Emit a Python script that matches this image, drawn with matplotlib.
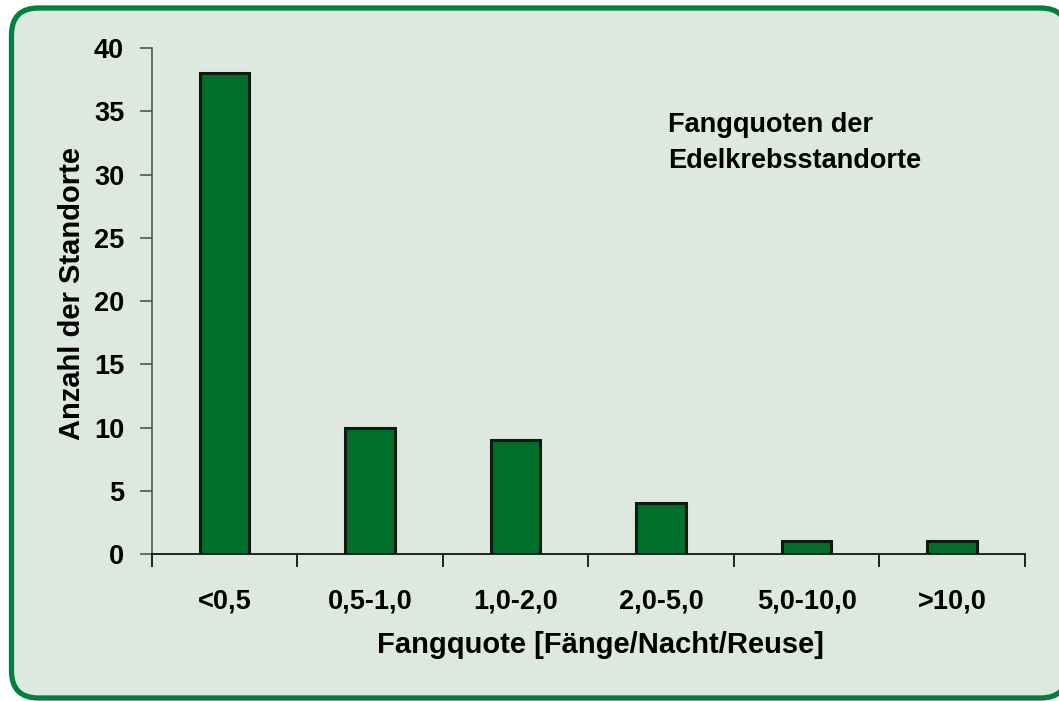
import matplotlib.pyplot as plt
from matplotlib.patches import FancyBboxPatch
from matplotlib.transforms import IdentityTransform

plt.rcParams['font.family'] = ['Liberation Sans', 'DejaVu Sans']
plt.rcParams['font.weight'] = 'bold'

# Daten
kategorien = ['<0,5', '0,5-1,0', '1,0-2,0', '2,0-5,0', '5,0-10,0', '>10,0']
anzahl = [38, 10, 9, 4, 1, 1]
y_ticks = [0, 5, 10, 15, 20, 25, 30, 35, 40]

bg = '#dde9df'
rand = '#00803c'
balken = '#006f2c'

fig = plt.figure(figsize=(10.59, 7.01), dpi=100, facecolor='white')

# abgerundeter Rahmen (Pixelkoordinaten)
box = FancyBboxPatch((11.5, 3), 1056, 690,
                     boxstyle='round,pad=0,rounding_size=27',
                     transform=IdentityTransform(),
                     facecolor=bg, edgecolor=rand, linewidth=3.8, zorder=-10)
fig.patches.append(box)

ax = fig.add_axes([0.1435, 0.2097, 0.8243, 0.7218])
ax.set_facecolor('none')

x = range(len(kategorien))
ax.bar(x, anzahl, width=0.34, color=balken, edgecolor='#0c1a10', linewidth=2.2, zorder=3)

ax.set_xlim(-0.5, 5.5)
ax.set_ylim(0, 40)
ax.set_yticks(y_ticks)
ax.set_yticklabels([str(v) for v in y_ticks], fontsize=19.5, fontweight='bold')

# Kategorien in der Mitte, Striche an den Grenzen
ax.set_xticks(list(x))
ax.set_xticklabels(kategorien, fontsize=19.5, fontweight='bold')
ax.set_xticks([i - 0.5 for i in range(len(kategorien) + 1)], minor=True)
ax.tick_params(axis='x', which='major', length=0, pad=25)
ax.tick_params(axis='x', which='minor', length=9, width=1.2, direction='out', color='black')
ax.tick_params(axis='y', length=9, width=1.2, direction='out', color='#4a5a4e', pad=11)

for s in ['top', 'right']:
    ax.spines[s].set_visible(False)
ax.spines['left'].set_color('#4a5a4e')
ax.spines['left'].set_linewidth(1.2)
ax.spines['bottom'].set_color('black')
ax.spines['bottom'].set_linewidth(1.2)

ax.set_xlabel('Fangquote [Fänge/Nacht/Reuse]', fontsize=21, fontweight='bold', labelpad=12)
ax.set_ylabel('Anzahl der Standorte', fontsize=21, fontweight='bold', labelpad=6)
ax.xaxis.label.set_x(0.514)
ax.yaxis.label.set_y(0.515)

ax.text(0.591, 0.873, 'Fangquoten der\nEdelkrebsstandorte', transform=ax.transAxes,
        fontsize=19.5, fontweight='bold', va='top', ha='left', linespacing=1.5)

fig.savefig('out.png', dpi=100, facecolor='white')
